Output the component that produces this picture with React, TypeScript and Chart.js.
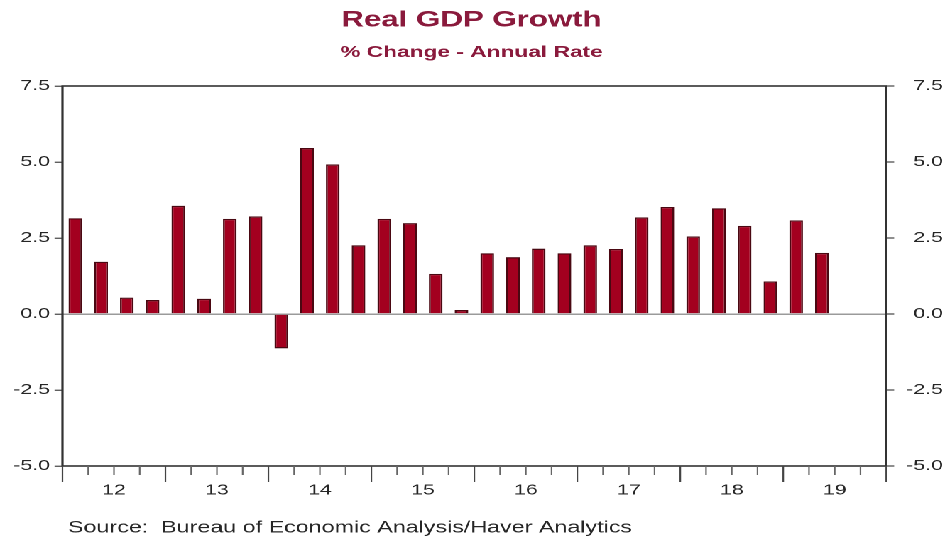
import React, { useEffect, useRef } from 'react';
import { Chart, registerables } from 'chart.js';

Chart.register(...registerables);

// ---------- data ----------
const TITLE = 'Real GDP Growth';
const SUBTITLE = '% Change - Annual Rate';
const SOURCE = 'Source:  Bureau of Economic Analysis/Haver Analytics';
const YEARS = ['12', '13', '14', '15', '16', '17', '18', '19'];
const QUARTERS = YEARS.flatMap((y) => ['Q1', 'Q2', 'Q3', 'Q4'].map((q) => `20${y} ${q}`));
// 2012 Q1 .. 2019 Q2
const GDP_GROWTH = [
  3.15, 1.72, 0.54, 0.46,
  3.56, 0.5, 3.13, 3.21,
  -1.13, 5.46, 4.92, 2.26,
  3.13, 2.99, 1.32, 0.13,
  2.0, 1.87, 2.15, 2.0,
  2.26, 2.14, 3.18, 3.52,
  2.55, 3.48, 2.9, 1.07,
  3.08, 2.01,
];
const Y_MIN = -5;
const Y_MAX = 7.5;
const Y_STEP = 2.5;

// ---------- style ----------
const STRETCH = 1.42; // the reference is horizontally stretched
const WIDTH = 943 / STRETCH;
const HEIGHT = 542;
const FONT = '"Liberation Sans", Arial, Helvetica, sans-serif';
const TITLE_COLOR = '#8a1a3c';
const BAR_FILL = '#a3001f';
const BAR_EDGE = '#4a0812';
const AXIS_COLOR = '#333333';
const TEXT_COLOR = '#262626';

const SLOTS = QUARTERS.length;

const decorPlugin = {
  id: 'decor',
  afterDatasetsDraw(chart: any) {
    const { ctx, chartArea } = chart;
    const xs = chart.scales.x;
    ctx.save();
    // frame
    ctx.strokeStyle = AXIS_COLOR;
    ctx.lineWidth = 1.6;
    ctx.strokeRect(chartArea.left, chartArea.top, chartArea.right - chartArea.left, chartArea.bottom - chartArea.top);
    // quarter / year tick marks below the axis
    for (let i = 0; i <= SLOTS; i++) {
      const x = xs.getPixelForValue(i);
      const major = i % 4 === 0;
      ctx.beginPath();
      ctx.strokeStyle = major ? '#444444' : '#666666';
      ctx.lineWidth = 1.1;
      ctx.moveTo(x, chartArea.bottom);
      ctx.lineTo(x, chartArea.bottom + (major ? 16 : 9));
      ctx.stroke();
    }
    ctx.restore();
  },
  afterDraw(chart: any) {
    const { ctx } = chart;
    ctx.save();
    ctx.font = `16.4px ${FONT}`;
    ctx.fillStyle = TEXT_COLOR;
    ctx.textAlign = 'left';
    ctx.textBaseline = 'middle';
    ctx.fillText(SOURCE, 68 / STRETCH, 528);
    ctx.restore();
  },
};

export default function App() {
  const canvasRef = useRef<HTMLCanvasElement | null>(null);

  useEffect(() => {
    if (!canvasRef.current) return;
    Chart.defaults.font.family = FONT;

    const yTicks = {
      stepSize: Y_STEP,
      callback: (v: any) => Number(v).toFixed(1),
      color: TEXT_COLOR,
      font: { size: 15 },
    };

    const chart = new Chart(canvasRef.current, {
      type: 'bar',
      data: {
        datasets: [
          {
            label: 'Real GDP Growth',
            data: GDP_GROWTH.map((v, i) => ({ x: i + 0.5, y: v })),
            backgroundColor: BAR_FILL,
            borderColor: BAR_EDGE,
            borderWidth: 1.3,
            categoryPercentage: 1,
            barPercentage: 0.53,
          },
        ],
      },
      options: {
        animation: false,
        responsive: true,
        maintainAspectRatio: false,
        devicePixelRatio: 2,
        layout: { padding: 0 },
        plugins: {
          legend: { display: false },
          tooltip: { enabled: false },
          title: {
            display: true,
            text: TITLE,
            color: TITLE_COLOR,
            font: { size: 22, weight: 'bold', lineHeight: 1.2 },
            padding: { top: 7, bottom: 0 },
          },
          subtitle: {
            display: true,
            text: SUBTITLE,
            color: TITLE_COLOR,
            font: { size: 16, weight: 'bold', lineHeight: 1.2 },
            padding: { top: 9.5, bottom: 23.9 },
          },
        },
        scales: {
          x: {
            type: 'linear',
            min: 0,
            max: SLOTS,
            offset: false,
            position: 'bottom',
            grid: { display: false, drawTicks: false, offset: false },
            border: { display: false },
            afterBuildTicks: (s: any) => {
              s.ticks = YEARS.map((_, k) => ({ value: k * 4 + 2 }));
            },
            ticks: {
              callback: (v: any) => YEARS[Math.round((Number(v) - 2) / 4)] ?? '',
              padding: 15.5,
              maxRotation: 0,
              autoSkip: false,
              color: TEXT_COLOR,
              font: { size: 15 },
            },
            afterFit: (s: any) => {
              s.height = 76;
            },
          },
          y: {
            position: 'left',
            min: Y_MIN,
            max: Y_MAX,
            ticks: { ...yTicks, padding: 3.2 },
            grid: {
              drawOnChartArea: true,
              color: (c: any) => (c.tick && c.tick.value === 0 ? '#9a9a9a' : 'rgba(0,0,0,0)'),
              lineWidth: 1.5,
              drawTicks: true,
              tickLength: 5.6,
              tickColor: '#444444',
              tickWidth: 1.2,
            },
            border: { display: false },
            afterFit: (s: any) => {
              s.width = 44;
            },
          },
          y2: {
            position: 'right',
            min: Y_MIN,
            max: Y_MAX,
            ticks: { ...yTicks, padding: 2.2, crossAlign: 'far' },
            grid: {
              drawOnChartArea: false,
              drawTicks: true,
              tickLength: 5.6,
              tickColor: '#444444',
              tickWidth: 1.2,
            },
            border: { display: false },
            afterFit: (s: any) => {
              s.width = 40;
            },
          },
        },
      } as any,
      plugins: [decorPlugin],
    });

    return () => chart.destroy();
  }, []);

  return (
    <div
      style={{
        position: 'fixed',
        left: 0,
        top: 0,
        width: WIDTH,
        height: HEIGHT,
        transform: `scaleX(${STRETCH})`,
        transformOrigin: '0 0',
        background: '#ffffff',
      }}
    >
      <canvas ref={canvasRef} />
    </div>
  );
}
